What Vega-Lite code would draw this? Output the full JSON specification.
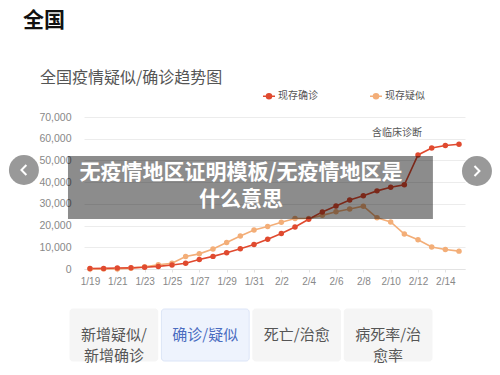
{
  "$schema": "https://vega.github.io/schema/vega-lite/v6.json",
  "background": "white",
  "padding": {"left": 8, "top": 10, "right": 0, "bottom": 0},
  "title": {"text": "全国", "anchor": "start", "frame": "bounds", "dx": 14, "fontSize": 21, "fontWeight": "bold", "font": "Noto Sans CJK SC", "color": "#111111", "offset": 39},
  "spacing": 22,
  "config": {"view": {"stroke": null}, "font": "Noto Sans CJK SC"},
  "vconcat": [
    {
      "width": 381,
      "height": 152,
      "title": {"text": "全国疫情疑似/确诊趋势图", "anchor": "start", "frame": "group", "dx": -44, "fontSize": 16, "fontWeight": "normal", "font": "Noto Sans CJK SC", "color": "#555555", "offset": 26},
      "resolve": {"axis": {"x": "independent", "y": "independent"}},
      "layer": [
        {
          "data": {"values": [
            {"date": "2020-01-19T00:00:00", "series": "现存疑似", "value": 30},
            {"date": "2020-01-20T00:00:00", "series": "现存疑似", "value": 54},
            {"date": "2020-01-21T00:00:00", "series": "现存疑似", "value": 37},
            {"date": "2020-01-22T00:00:00", "series": "现存疑似", "value": 393},
            {"date": "2020-01-23T00:00:00", "series": "现存疑似", "value": 1072},
            {"date": "2020-01-24T00:00:00", "series": "现存疑似", "value": 1965},
            {"date": "2020-01-25T00:00:00", "series": "现存疑似", "value": 2684},
            {"date": "2020-01-26T00:00:00", "series": "现存疑似", "value": 5794},
            {"date": "2020-01-27T00:00:00", "series": "现存疑似", "value": 6973},
            {"date": "2020-01-28T00:00:00", "series": "现存疑似", "value": 9239},
            {"date": "2020-01-29T00:00:00", "series": "现存疑似", "value": 12167},
            {"date": "2020-01-30T00:00:00", "series": "现存疑似", "value": 15238},
            {"date": "2020-01-31T00:00:00", "series": "现存疑似", "value": 17988},
            {"date": "2020-02-01T00:00:00", "series": "现存疑似", "value": 19544},
            {"date": "2020-02-02T00:00:00", "series": "现存疑似", "value": 21558},
            {"date": "2020-02-03T00:00:00", "series": "现存疑似", "value": 23214},
            {"date": "2020-02-04T00:00:00", "series": "现存疑似", "value": 23260},
            {"date": "2020-02-05T00:00:00", "series": "现存疑似", "value": 24702},
            {"date": "2020-02-06T00:00:00", "series": "现存疑似", "value": 26359},
            {"date": "2020-02-07T00:00:00", "series": "现存疑似", "value": 27657},
            {"date": "2020-02-08T00:00:00", "series": "现存疑似", "value": 28942},
            {"date": "2020-02-09T00:00:00", "series": "现存疑似", "value": 23589},
            {"date": "2020-02-10T00:00:00", "series": "现存疑似", "value": 21675},
            {"date": "2020-02-11T00:00:00", "series": "现存疑似", "value": 16067},
            {"date": "2020-02-12T00:00:00", "series": "现存疑似", "value": 13435},
            {"date": "2020-02-13T00:00:00", "series": "现存疑似", "value": 10109},
            {"date": "2020-02-14T00:00:00", "series": "现存疑似", "value": 8969},
            {"date": "2020-02-15T00:00:00", "series": "现存疑似", "value": 8228},
            {"date": "2020-01-19T00:00:00", "series": "现存确诊", "value": 200},
            {"date": "2020-01-20T00:00:00", "series": "现存确诊", "value": 280},
            {"date": "2020-01-21T00:00:00", "series": "现存确诊", "value": 430},
            {"date": "2020-01-22T00:00:00", "series": "现存确诊", "value": 540},
            {"date": "2020-01-23T00:00:00", "series": "现存确诊", "value": 780},
            {"date": "2020-01-24T00:00:00", "series": "现存确诊", "value": 1200},
            {"date": "2020-01-25T00:00:00", "series": "现存确诊", "value": 1870},
            {"date": "2020-01-26T00:00:00", "series": "现存确诊", "value": 2610},
            {"date": "2020-01-27T00:00:00", "series": "现存确诊", "value": 4410},
            {"date": "2020-01-28T00:00:00", "series": "现存确诊", "value": 5810},
            {"date": "2020-01-29T00:00:00", "series": "现存确诊", "value": 7440},
            {"date": "2020-01-30T00:00:00", "series": "现存确诊", "value": 9310},
            {"date": "2020-01-31T00:00:00", "series": "现存确诊", "value": 11290},
            {"date": "2020-02-01T00:00:00", "series": "现存确诊", "value": 13750},
            {"date": "2020-02-02T00:00:00", "series": "现存确诊", "value": 16370},
            {"date": "2020-02-03T00:00:00", "series": "现存确诊", "value": 19380},
            {"date": "2020-02-04T00:00:00", "series": "现存确诊", "value": 22940},
            {"date": "2020-02-05T00:00:00", "series": "现存确诊", "value": 26300},
            {"date": "2020-02-06T00:00:00", "series": "现存确诊", "value": 28990},
            {"date": "2020-02-07T00:00:00", "series": "现存确诊", "value": 31770},
            {"date": "2020-02-08T00:00:00", "series": "现存确诊", "value": 33740},
            {"date": "2020-02-09T00:00:00", "series": "现存确诊", "value": 35980},
            {"date": "2020-02-10T00:00:00", "series": "现存确诊", "value": 37630},
            {"date": "2020-02-11T00:00:00", "series": "现存确诊", "value": 38800},
            {"date": "2020-02-12T00:00:00", "series": "现存确诊", "value": 52530},
            {"date": "2020-02-13T00:00:00", "series": "现存确诊", "value": 55750},
            {"date": "2020-02-14T00:00:00", "series": "现存确诊", "value": 56870},
            {"date": "2020-02-15T00:00:00", "series": "现存确诊", "value": 57420}
          ]},
          "mark": {"type": "line", "strokeWidth": 1.6, "point": {"filled": true, "size": 30}},
          "encoding": {
            "x": {"field": "date", "type": "temporal",
              "scale": {"domain": [{"year": 2020, "month": 1, "date": 18, "hours": 13, "minutes": 30}, {"year": 2020, "month": 2, "date": 15, "hours": 10, "minutes": 30}]},
              "axis": {"title": null, "grid": false, "format": "%-m/%-d",
                "values": [
                  {"year": 2020, "month": 1, "date": 19}, {"year": 2020, "month": 1, "date": 21}, {"year": 2020, "month": 1, "date": 23},
                  {"year": 2020, "month": 1, "date": 25}, {"year": 2020, "month": 1, "date": 27}, {"year": 2020, "month": 1, "date": 29},
                  {"year": 2020, "month": 1, "date": 31}, {"year": 2020, "month": 2, "date": 2}, {"year": 2020, "month": 2, "date": 4},
                  {"year": 2020, "month": 2, "date": 6}, {"year": 2020, "month": 2, "date": 8}, {"year": 2020, "month": 2, "date": 10},
                  {"year": 2020, "month": 2, "date": 12}, {"year": 2020, "month": 2, "date": 14}],
                "labelColor": "#888888", "labelFontSize": 10, "labelFont": "Liberation Sans", "labelPadding": 4,
                "labelOverlap": false, "labelFlush": false, "domainColor": "#e3e3e3", "tickColor": "#e3e3e3", "tickSize": 3}},
            "y": {"field": "value", "type": "quantitative",
              "scale": {"domain": [0, 70000], "nice": false},
              "axis": {"title": null, "values": [0, 10000, 20000, 30000, 40000, 50000, 60000, 70000], "format": ",d",
                "labelColor": "#888888", "labelFontSize": 10.5, "labelFont": "Liberation Sans", "gridColor": "#ececec",
                "domain": false, "ticks": false, "labelPadding": 13}},
            "color": {"field": "series", "type": "nominal",
              "scale": {"domain": ["现存确诊", "现存疑似"], "range": ["#e04a2f", "#f3ae78"]},
              "legend": {"title": null, "orient": "none", "legendX": 178, "legendY": -28, "direction": "horizontal",
                "symbolType": "M-1,0L1,0M-0.42,0a0.42,0.42 0 1,0 0.84,0a0.42,0.42 0 1,0 -0.84,0",
                "symbolSize": 144, "symbolStrokeWidth": 1.5, "labelFontSize": 10, "labelColor": "#555555",
                "labelFont": "Noto Sans CJK SC", "labelOffset": 2, "columnPadding": 49,
                "encode": {"symbols": {"update": {"stroke": {"scale": "color", "field": "value"}, "fill": {"scale": "color", "field": "value"}, "opacity": {"value": 1}}}}}}
          }
        },
        {
          "data": {"values": [{}]},
          "mark": {"type": "text", "fontSize": 10, "color": "#555555", "font": "Noto Sans CJK SC"},
          "encoding": {
            "x": {"datum": {"year": 2020, "month": 2, "date": 10, "hours": 11}, "type": "temporal", "axis": null},
            "y": {"datum": 62630, "type": "quantitative", "axis": null},
            "text": {"value": "含临床诊断"}
          }
        },
        {
          "data": {"values": [{}]},
          "mark": {"type": "rect", "color": "#000000", "opacity": 0.45},
          "encoding": {
            "x": {"datum": {"year": 2020, "month": 1, "date": 17, "hours": 9, "minutes": 23}, "type": "temporal", "axis": null},
            "x2": {"datum": {"year": 2020, "month": 2, "date": 13, "hours": 2, "minutes": 10}},
            "y": {"datum": 52040, "type": "quantitative", "axis": null},
            "y2": {"datum": 23030}
          }
        },
        {
          "data": {"values": [{}]},
          "mark": {"type": "text", "fontSize": 21, "fontWeight": "bold", "color": "#ffffff", "font": "Noto Sans CJK SC", "lineBreak": "\n", "lineHeight": 27, "align": "center", "baseline": "middle"},
          "encoding": {
            "x": {"datum": {"year": 2020, "month": 1, "date": 30, "hours": 1, "minutes": 10}, "type": "temporal", "axis": null},
            "y": {"datum": 44300, "type": "quantitative", "axis": null},
            "text": {"value": "无疫情地区证明模板/无疫情地区是\n什么意思"}
          }
        },
        {
          "data": {"values": [{}]},
          "mark": {"type": "point", "shape": "circle", "filled": true, "size": 900, "color": "#000000", "opacity": 0.4},
          "encoding": {
            "x": {"datum": {"year": 2020, "month": 1, "date": 14, "hours": 4}, "type": "temporal", "axis": null},
            "y": {"datum": 45590, "type": "quantitative", "axis": null}
          }
        },
        {
          "data": {"values": [{}]},
          "mark": {"type": "point", "shape": "circle", "filled": true, "size": 900, "color": "#000000", "opacity": 0.4},
          "encoding": {
            "x": {"datum": {"year": 2020, "month": 2, "date": 16, "hours": 7, "minutes": 30}, "type": "temporal", "axis": null},
            "y": {"datum": 45130, "type": "quantitative", "axis": null}
          }
        },
        {
          "data": {"values": [{}]},
          "mark": {"type": "point", "shape": "M0.35,-0.7L-0.35,0L0.35,0.7", "filled": false, "size": 200, "color": "#ffffff", "strokeWidth": 2, "opacity": 1},
          "encoding": {
            "x": {"datum": {"year": 2020, "month": 1, "date": 14, "hours": 4}, "type": "temporal", "axis": null},
            "y": {"datum": 45590, "type": "quantitative", "axis": null}
          }
        },
        {
          "data": {"values": [{}]},
          "mark": {"type": "point", "shape": "M-0.35,-0.7L0.35,0L-0.35,0.7", "filled": false, "size": 200, "color": "#ffffff", "strokeWidth": 2, "opacity": 1},
          "encoding": {
            "x": {"datum": {"year": 2020, "month": 2, "date": 16, "hours": 7, "minutes": 30}, "type": "temporal", "axis": null},
            "y": {"datum": 45130, "type": "quantitative", "axis": null}
          }
        }
      ]
    },
    {
      "width": 348,
      "height": 52,
      "data": {"values": [
        {"label": "新增疑似/\n新增确诊"},
        {"label": "确诊/疑似"},
        {"label": "死亡/治愈"},
        {"label": "病死率/治\n愈率"}
      ]},
      "encoding": {
        "x": {"field": "label", "type": "nominal", "sort": null, "axis": null, "scale": {"type": "band", "range": [-14, 348], "paddingInner": 0.04, "paddingOuter": 0, "round": false}}
      },
      "layer": [
        {
          "mark": {"type": "rect", "cornerRadius": 3, "strokeWidth": 1},
          "encoding": {
            "fill": {"condition": {"test": "datum.label === '确诊/疑似'", "value": "#eef3fd"}, "value": "#f5f5f5"},
            "stroke": {"condition": {"test": "datum.label === '确诊/疑似'", "value": "#dce5f7"}, "value": "#f5f5f5"}
          }
        },
        {
          "mark": {"type": "text", "lineBreak": "\n", "fontSize": 15, "lineHeight": 21, "font": "Noto Sans CJK SC", "baseline": "middle"},
          "encoding": {
            "text": {"field": "label"},
            "color": {"condition": {"test": "datum.label === '确诊/疑似'", "value": "#4a6cc0"}, "value": "#555555"}
          }
        }
      ]
    }
  ]
}
